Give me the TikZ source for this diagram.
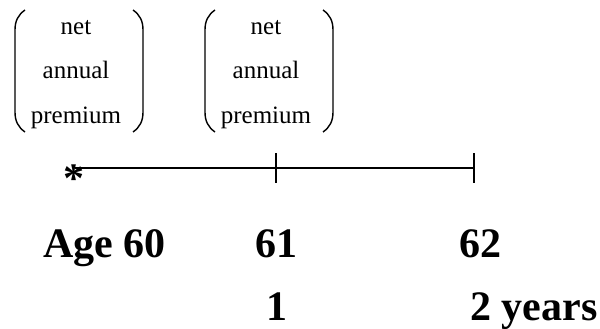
\documentclass[tikz,border=0pt]{standalone}
\usepackage{fontspec}
\setmainfont{Liberation Serif}
\begin{document}
\begin{tikzpicture}[x=1pt,y=-1pt,
  small/.style={font=\fontsize{25}{30}\selectfont,inner sep=0pt,anchor=base},
  big/.style={font=\fontsize{42}{48}\selectfont\bfseries,inner sep=0pt,anchor=base},
  paren/.style={line width=1.4pt},
  axis/.style={line width=1.8pt}]
\useasboundingbox (0,0) rectangle (600,329);
% group 1
\node[small] (n1) at (76,35) {net};
\node[small] (a1) at (76,79) {annual};
\node[small] (r1) at (76,123) {premium};
\draw[paren] (25,10) .. controls (18,15) and (15,21) .. (15,30) -- (15,112) .. controls (15,121) and (18,127) .. (25,132);
\draw[paren] (133,10) .. controls (140,15) and (143,21) .. (143,30) -- (143,112) .. controls (143,121) and (140,127) .. (133,132);
% group 2
\node[small] (n2) at (266,35) {net};
\node[small] (a2) at (266,79) {annual};
\node[small] (r2) at (266,123) {premium};
\draw[paren] (215,10) .. controls (208,15) and (205,21) .. (205,30) -- (205,112) .. controls (205,121) and (208,127) .. (215,132);
\draw[paren] (323,10) .. controls (330,15) and (333,21) .. (333,30) -- (333,112) .. controls (333,121) and (330,127) .. (323,132);
% timeline
\node[font=\fontsize{42}{48}\selectfont\bfseries,inner sep=0pt] (s) at (74,179) {*};
\coordinate (a0) at (75,168);
\coordinate (t1) at (276,168);
\coordinate (t2) at (474,168);
\draw[axis] (a0) -- (t2);
\draw[axis] ([yshift=15pt]t1) -- ([yshift=-15pt]t1);
\draw[axis] ([yshift=15pt]t2) -- ([yshift=-15pt]t2);
% labels
\node[big,anchor=base west] (l60) at (43,257) {Age 60};
\node[big] (l61) at (276,257) {61};
\node[big] (l62) at (480,257) {62};
\node[big] (y1) at (277,320) {1};
\node[big,anchor=base west] (y2) at (470,320) {2 years};
\end{tikzpicture}
\end{document}
